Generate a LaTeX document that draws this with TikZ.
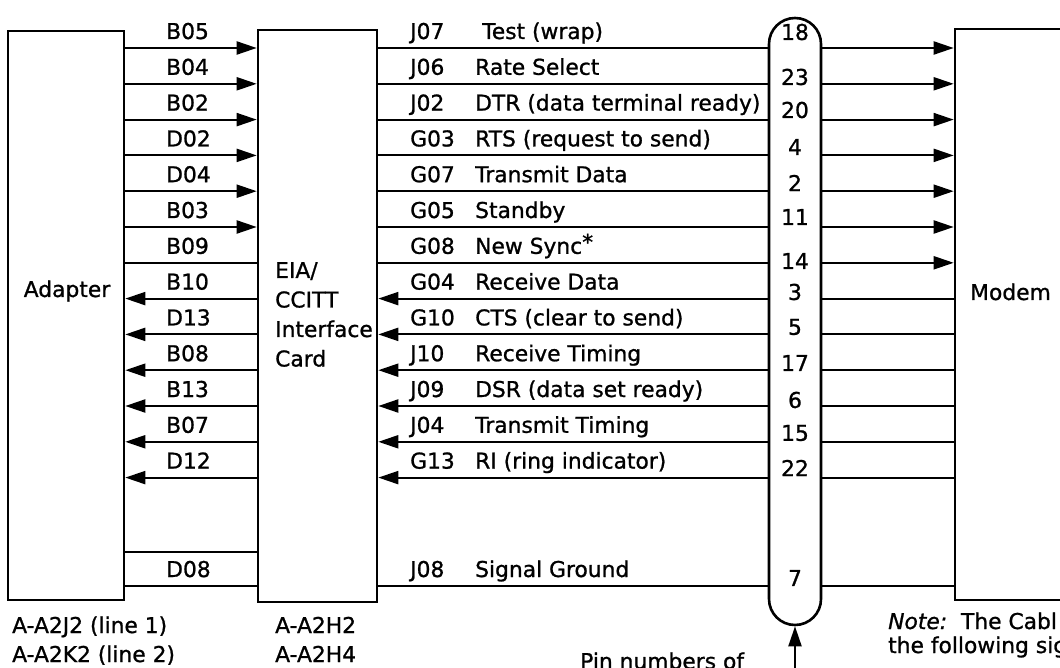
\documentclass[tikz,border=0pt]{standalone}
\usepackage{fontspec}
\setmainfont{DejaVu Sans}[FakeBold=1]
\usetikzlibrary{arrows.meta,positioning}

\tikzset{
  unit/.style={draw, line width=2.6pt, inner sep=0pt},
  wire/.style={line width=2.1pt},
  sigr/.style={wire, -{Triangle[length=20pt,width=13pt]}},
  lbl/.style={font=\fontsize{21.8}{26}\selectfont, inner sep=0pt},
}

\begin{document}
\begin{tikzpicture}[x=1pt,y=-1pt]
  \useasboundingbox (0,0) rectangle (1060,668);
  \clip (0,0) rectangle (1060,668);
  % boxes
  \node[unit, minimum width=116pt, minimum height=569pt] (adapter) at (66,315.5) {};
  \node[unit, minimum width=119pt, minimum height=572pt] (card) at (317.5,316) {};
  \node[unit, minimum width=52pt, minimum height=607pt, rounded corners=26pt] (plug) at (795,321.5) {};
  \node[unit, minimum width=170pt, minimum height=571pt] (modem) at (1040,314.5) {};
  \node[lbl, anchor=base] (adaptername) at (67,297) {Adapter};
  \foreach \t [count=\i] in {{EIA/},CCITT,Interface,Card}{
    \node[lbl, anchor=base west] (cardname\i) at (275,248.5+29.5*\i) {\t};
  }
  \node[lbl, anchor=base west] (modemname) at (970,300) {Modem};
  % adapter to card (r = to card, l = to adapter, n = no tip)
  \foreach \lab/\dir [count=\i from 0] in {B05/r,B04/r,B02/r,D02/r,D04/r,B03/r,B09/n,B10/l,D13/l,B08/l,B13/l,B07/l,D12/l}{
    \pgfmathsetmacro{\y}{48+35.8*\i}
    \node[lbl, anchor=base west] (a\i) at (166,\y-9) {\lab};
    \if\dir r
      \draw[sigr] (adapter.east |- 0,\y) -- (card.west |- 0,\y);
    \fi
    \if\dir n
      \draw[wire] (adapter.east |- 0,\y) -- (card.west |- 0,\y);
    \fi
    \if\dir l
      \draw[sigr] (card.west |- 0,\y) -- (adapter.east |- 0,\y);
    \fi
  }
  % card to plug to modem
  \foreach \pin/\lab/\txt/\py [count=\i from 0] in {J07/\hspace{7pt}Test (wrap)/18/32,J06/Rate Select/23/77,J02/DTR (data terminal ready)/20/110,G03/RTS (request to send)/4/147,G07/Transmit Data/2/183,G05/Standby/11/217,G08/New Sync\raisebox{4pt}{*}/14/261,G04/Receive Data/3/292,G10/CTS (clear to send)/5/327,J10/Receive Timing/17/363,J09/DSR (data set ready)/6/400,J04/Transmit Timing/15/433,G13/RI (ring indicator)/22/468}{
    \pgfmathsetmacro{\y}{48+35.8*\i}
    \node[lbl, anchor=base west] (c\i) at (410,\y-9) {\pin};
    \node[lbl, anchor=base west] (d\i) at (475,\y-9) {\lab};
    \node[lbl] (p\i) at (795,\py) {\txt};
    \ifnum\i<7
      \draw[wire] (card.east |- 0,\y) -- (plug.west |- 0,\y);
      \draw[sigr] (plug.east |- 0,\y) -- (modem.west |- 0,\y);
    \else
      \draw[sigr] (plug.west |- 0,\y) -- (card.east |- 0,\y);
      \draw[wire] (modem.west |- 0,\y) -- (plug.east |- 0,\y);
    \fi
  }
  % signal ground
  \draw[wire] (adapter.east |- 0,552) -- (card.west |- 0,552);
  \draw[wire] (adapter.east |- 0,586) -- (card.west |- 0,586);
  \draw[wire] (card.east |- 0,586) -- (plug.west |- 0,586);
  \draw[wire] (plug.east |- 0,586) -- (modem.west |- 0,586);
  \node[lbl, anchor=base west] (gnda) at (166,577) {D08};
  \node[lbl, anchor=base west] (gndc) at (410,577) {J08};
  \node[lbl, anchor=base west] (gndd) at (475,577) {Signal Ground};
  \node[lbl] (gndp) at (795,578) {7};
  % locations and notes
  \node[lbl, anchor=base west] (loc1) at (12,633) {A-A2J2 (line 1)};
  \node[lbl, anchor=base west] (loc2) at (12,662) {A-A2K2 (line 2)};
  \node[lbl, anchor=base west] (loc3) at (275,633) {A-A2H2};
  \node[lbl, anchor=base west] (loc4) at (275,662) {A-A2H4};
  \node[lbl, anchor=base west] (pinnote) at (580,669) {Pin numbers of};
  \coordinate (pinfoot) at (795,672);
  \draw[sigr] (pinfoot) -- (plug.south);
  \node[lbl, anchor=base west] (note1) at (888,629) {\textit{Note:}\ \ The Cabl};
  \node[lbl, anchor=base west] (note2) at (888,653) {the following sig};
\end{tikzpicture}
\end{document}
